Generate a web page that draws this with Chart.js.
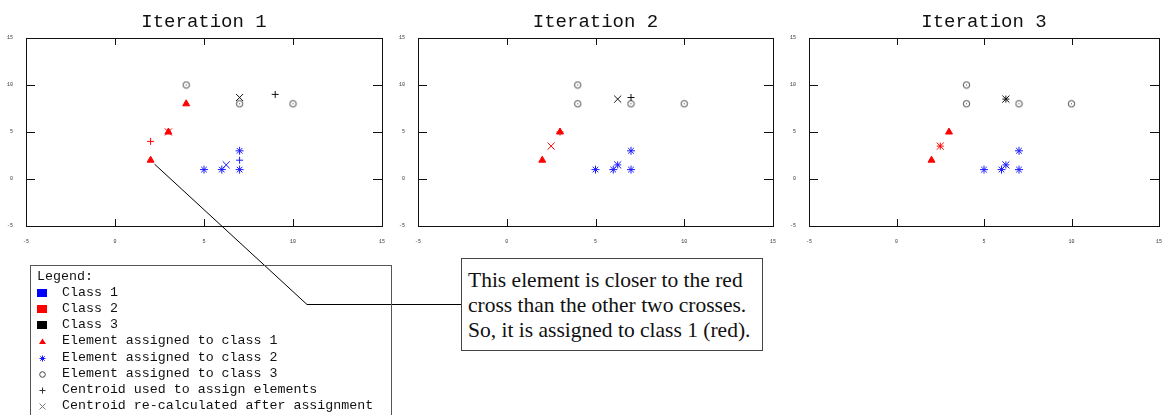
<!DOCTYPE html>
<html>
<head>
<meta charset="utf-8">
<script src="https://cdn.jsdelivr.net/npm/chart.js@4.4.0/dist/chart.umd.min.js"></script>
<style>
  body { margin: 0; width: 1165px; height: 415px; overflow: hidden; background: #fff; position: relative; }
  canvas.panel { position: absolute; top: 0; }
  #legend {
    position: absolute; left: 30px; top: 265px; width: 362px; height: 170px;
    box-sizing: border-box; border: 1px solid #555; padding: 3px 0 0 6px;
    font: 13.3px "Liberation Mono", monospace; color: #111;
  }
  #legend .row { height: 16.1px; line-height: 16px; white-space: pre; display: flex; align-items: center; }
  #legend canvas { width: 12px; height: 12px; margin-right: 13px; flex: none; }
  #note {
    position: absolute; left: 461px; top: 258px; width: 302px; height: 93px;
    box-sizing: border-box; border: 1px solid #444; padding: 9px 0 0 6px;
    font: 21.5px "Liberation Serif", serif; line-height: 25px; color: #111; background: #fff;
    white-space: nowrap;
  }
  #connector { position: absolute; left: 0; top: 0; pointer-events: none; }
</style>
</head>
<body>
<canvas id="panel-1" class="panel" width="395" height="250" style="left:0px"></canvas>
<canvas id="panel-2" class="panel" width="392" height="250" style="left:392px"></canvas>
<canvas id="panel-3" class="panel" width="382" height="250" style="left:783px"></canvas>
<svg id="connector" width="1165" height="415"></svg>
<div id="legend"></div>
<div id="note">This element is closer to the red<br>cross than the other two crosses.<br>So, it is assigned to class 1 (red).</div>

<script>
// Axis range (same for both axes, all panels)
const axisMin = -5;
const axisMax = 15;
const axisStep = 5;

const panelTitles = ["Iteration 1", "Iteration 2", "Iteration 3"];

// Elements per iteration, [x, y]
const class1Points = [
    [[2, 2], [3, 5], [4, 8]],
    [[2, 2], [3, 5]],
    [[2, 2], [3, 5]]
];
const class2Points = [
    [[5, 1], [6, 1], [7, 1], [7, 3]],
    [[5, 1], [6, 1], [7, 1], [7, 3]],
    [[5, 1], [6, 1], [7, 1], [7, 3]]
];
const class3Points = [
    [[4, 10], [7, 8], [10, 8]],
    [[4, 10], [4, 8], [7, 8], [10, 8]],
    [[4, 10], [4, 8], [7, 8], [10, 8]]
];

// Centroids (red, blue, black) per iteration
const usedCentroids = [
    [[2, 4], [7, 2], [9, 9]],
    [[3, 5], [6.25, 1.5], [7, 8.67]],
    [[2.5, 3.5], [6.25, 1.5], [6.25, 8.5]]
];
const newCentroids = [
    [[3, 5], [6.25, 1.5], [7, 8.67]],
    [[2.5, 3.5], [6.25, 1.5], [6.25, 8.5]],
    [[2.5, 3.5], [6.25, 1.5], [6.25, 8.5]]
];

const legendLabels = [
    "Class 1",
    "Class 2",
    "Class 3",
    "Element assigned to class 1",
    "Element assigned to class 2",
    "Element assigned to class 3",
    "Centroid used to assign elements",
    "Centroid re-calculated after assignment"
];

// Styles
const RED = "#ff0000";
const BLUE = "#1a1aff";
const GREY = "#444444";
const centroidColors = [RED, BLUE, "#111111"];
const legendIcons = [
    ["square", "#0000ff"], ["square", "#ff0000"], ["square", "#000000"],
    ["triangle", RED], ["star", BLUE], ["ring", GREY],
    ["cross", "#333333"], ["crossRot", "#777777"]
];
const panelPadRight = [13, 11, 1];

function toXY(points) {
    return points.map(p => ({ x: p[0], y: p[1] }));
}

// Small circle with a dot in the middle
function makeRing(color) {
    const c = document.createElement("canvas");
    c.width = 9;
    c.height = 9;
    const ctx = c.getContext("2d");
    ctx.strokeStyle = color;
    ctx.lineWidth = 1;
    ctx.beginPath();
    ctx.arc(4.5, 4.5, 3.2, 0, Math.PI * 2);
    ctx.stroke();
    ctx.fillStyle = color;
    ctx.fillRect(4, 4, 1, 1);
    return c;
}
const ringImage = makeRing(GREY);

// Frame with inward tick marks on all four sides
const frameTicks = {
    id: "frameTicks",
    beforeDatasetsDraw(chart) {
        const { ctx, chartArea: a, scales } = chart;
        ctx.save();
        ctx.strokeStyle = "#111";
        ctx.lineWidth = 1;
        ctx.strokeRect(Math.round(a.left) + 0.5, Math.round(a.top) + 0.5,
            Math.round(a.right - a.left), Math.round(a.bottom - a.top));
        ctx.beginPath();
        scales.x.ticks.forEach(t => {
            if (t.value <= axisMin || t.value >= axisMax) return;
            const x = Math.round(scales.x.getPixelForValue(t.value)) + 0.5;
            ctx.moveTo(x, a.bottom); ctx.lineTo(x, a.bottom - 7);
            ctx.moveTo(x, a.top); ctx.lineTo(x, a.top + 7);
        });
        scales.y.ticks.forEach(t => {
            if (t.value <= axisMin || t.value >= axisMax) return;
            const y = Math.round(scales.y.getPixelForValue(t.value)) + 0.5;
            ctx.moveTo(a.left, y); ctx.lineTo(a.left + 9, y);
            ctx.moveTo(a.right, y); ctx.lineTo(a.right - 9, y);
        });
        ctx.stroke();
        ctx.restore();
    }
};

function axisOptions(isX) {
    return {
        type: "linear",
        min: axisMin,
        max: axisMax,
        grid: { display: false, drawTicks: false },
        border: { display: false },
        ticks: {
            stepSize: axisStep,
            maxRotation: 0,
            padding: 13,
            color: "#333",
            font: { family: "Liberation Mono", size: 5 }
        },
        afterFit(scale) {
            if (isX) {
                scale.height = 24;
                scale.paddingLeft = 0;
                scale.paddingRight = 0;
            } else {
                scale.width = 26;
                scale.paddingTop = 0;
                scale.paddingBottom = 0;
            }
        }
    };
}

function createPanel(canvas, i) {
    return new Chart(canvas, {
        type: "scatter",
        data: {
            datasets: [
                {
                    data: toXY(class1Points[i]),
                    pointStyle: "triangle",
                    pointRadius: 4,
                    pointBackgroundColor: RED,
                    pointBorderColor: RED,
                    pointBorderWidth: 1
                },
                {
                    data: toXY(class2Points[i]),
                    pointStyle: "star",
                    pointRadius: 4,
                    pointBorderColor: BLUE,
                    pointBorderWidth: 1
                },
                {
                    data: toXY(class3Points[i]),
                    pointStyle: ringImage,
                    pointRadius: 4
                },
                {
                    data: toXY(usedCentroids[i]),
                    pointStyle: "cross",
                    pointRadius: 3.5,
                    pointBorderColor: centroidColors,
                    pointBorderWidth: 1
                },
                {
                    data: toXY(newCentroids[i]),
                    pointStyle: "crossRot",
                    pointRadius: 5,
                    pointBorderColor: centroidColors,
                    pointBorderWidth: 1
                }
            ]
        },
        options: {
            responsive: false,
            animation: false,
            events: [],
            layout: { padding: { left: 0, right: panelPadRight[i], top: 0, bottom: 0 } },
            scales: { x: axisOptions(true), y: axisOptions(false) },
            plugins: {
                legend: { display: false },
                tooltip: { enabled: false },
                title: {
                    display: true,
                    text: panelTitles[i],
                    fullSize: false,
                    color: "#111",
                    font: { family: "Liberation Mono", size: 19, weight: "normal", lineHeight: 1.2 },
                    padding: { top: 10.6, bottom: 4.6 }
                }
            }
        },
        plugins: [frameTicks]
    });
}

const charts = panelTitles.map((t, i) => createPanel(document.getElementById("panel-" + (i + 1)), i));

// Legend box
function drawIcon(cv, kind, color) {
    cv.width = 12;
    cv.height = 12;
    const ctx = cv.getContext("2d");
    ctx.strokeStyle = color;
    ctx.fillStyle = color;
    ctx.lineWidth = 1;
    const cx = 5.5, cy = 6.5;
    ctx.beginPath();
    if (kind === "square") {
        ctx.fillRect(0, 2, 10, 8);
    } else if (kind === "triangle") {
        ctx.moveTo(cx, cy - 3);
        ctx.lineTo(cx + 3.5, cy + 2.5);
        ctx.lineTo(cx - 3.5, cy + 2.5);
        ctx.closePath();
        ctx.fill();
    } else if (kind === "star") {
        ctx.moveTo(cx - 3, cy); ctx.lineTo(cx + 3, cy);
        ctx.moveTo(cx, cy - 3); ctx.lineTo(cx, cy + 3);
        ctx.moveTo(cx - 2.2, cy - 2.2); ctx.lineTo(cx + 2.2, cy + 2.2);
        ctx.moveTo(cx - 2.2, cy + 2.2); ctx.lineTo(cx + 2.2, cy - 2.2);
        ctx.stroke();
    } else if (kind === "ring") {
        ctx.arc(cx, cy, 2.8, 0, Math.PI * 2);
        ctx.stroke();
    } else if (kind === "cross") {
        ctx.moveTo(cx - 3, cy); ctx.lineTo(cx + 3, cy);
        ctx.moveTo(cx, cy - 3); ctx.lineTo(cx, cy + 3);
        ctx.stroke();
    } else if (kind === "crossRot") {
        ctx.moveTo(cx - 3, cy - 3); ctx.lineTo(cx + 3, cy + 3);
        ctx.moveTo(cx - 3, cy + 3); ctx.lineTo(cx + 3, cy - 3);
        ctx.stroke();
    }
}

const legend = document.getElementById("legend");
const head = document.createElement("div");
head.className = "row";
head.textContent = "Legend:";
legend.appendChild(head);
legendLabels.forEach((label, k) => {
    const row = document.createElement("div");
    row.className = "row";
    const icon = document.createElement("canvas");
    drawIcon(icon, legendIcons[k][0], legendIcons[k][1]);
    const span = document.createElement("span");
    span.textContent = label;
    row.appendChild(icon);
    row.appendChild(span);
    legend.appendChild(row);
});

// Connector from the annotated element to the note box
const annotated = class1Points[0][0];
const first = charts[0];
const startX = first.canvas.offsetLeft + first.scales.x.getPixelForValue(annotated[0]) + 4;
const startY = first.canvas.offsetTop + first.scales.y.getPixelForValue(annotated[1]) + 4;
const note = document.getElementById("note");
const elbowY = 304.5;
const svg = document.getElementById("connector");
const line = document.createElementNS("http://www.w3.org/2000/svg", "polyline");
line.setAttribute("points", `${startX},${startY} 307,${elbowY} ${note.offsetLeft},${elbowY}`);
line.setAttribute("fill", "none");
line.setAttribute("stroke", "#000");
line.setAttribute("stroke-width", "1");
svg.appendChild(line);
</script>
</body>
</html>
